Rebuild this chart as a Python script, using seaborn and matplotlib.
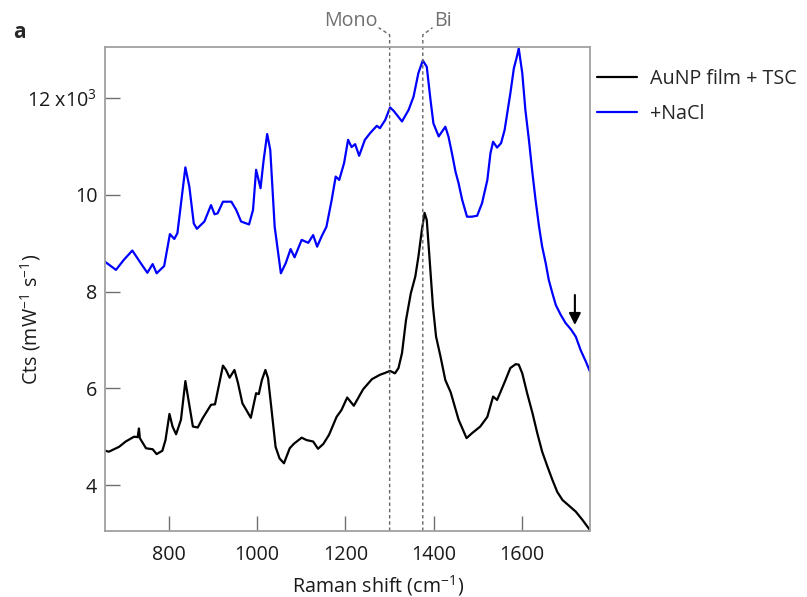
import numpy as np
import pandas as pd
import matplotlib
matplotlib.use("Agg")
import matplotlib.pyplot as plt
import matplotlib.transforms as mtransforms
import seaborn as sns

# ---- data ----
nacl_shift = [656, 681, 699, 718, 737, 752, 764, 773, 790, 803, 813, 820, 838, 847, 857, 864,
              881, 896, 904, 911, 923, 942, 953, 964, 982, 991, 998, 1008, 1015, 1023, 1030,
              1040, 1054, 1065, 1076, 1085, 1101, 1116, 1127, 1136, 1146, 1157, 1169, 1178,
              1186, 1197, 1206, 1214, 1222, 1231, 1244, 1256, 1271, 1278, 1290, 1301, 1309,
              1328, 1343, 1354, 1365, 1375, 1384, 1392, 1399, 1411, 1426, 1433, 1441, 1449,
              1456, 1464, 1475, 1486, 1498, 1509, 1521, 1528, 1534, 1543, 1552, 1560, 1566,
              1573, 1581, 1587, 1592, 1600, 1607, 1615, 1623, 1630, 1638, 1645, 1653, 1660,
              1668, 1676, 1687, 1698, 1710, 1721, 1732, 1744, 1753]
nacl_cts = [8620, 8450, 8660, 8850, 8590, 8390, 8570, 8380, 8530, 9190, 9090, 9210, 10570,
            10170, 9410, 9300, 9450, 9790, 9600, 9620, 9860, 9860, 9690, 9450, 9390, 9690,
            10520, 10140, 10720, 11260, 10930, 9340, 8380, 8590, 8880, 8710, 9070, 9010,
            9170, 8930, 9140, 9340, 9900, 10380, 10310, 10660, 11140, 10990, 11050, 10810,
            11140, 11280, 11430, 11380, 11550, 11810, 11740, 11520, 11760, 12030, 12520,
            12780, 12650, 12000, 11480, 11210, 11410, 11210, 10860, 10480, 10240, 9900,
            9550, 9550, 9570, 9830, 10310, 10860, 11100, 10980, 11070, 11340, 11690, 12100,
            12620, 12830, 13030, 12520, 11760, 11140, 10450, 9900, 9340, 8930, 8590, 8240,
            7970, 7720, 7520, 7350, 7220, 7070, 6790, 6550, 6350]

tsc_shift = [656, 665, 688, 703, 722, 730, 733, 735, 749, 764, 773, 786, 793, 802, 809, 817,
             828, 838, 845, 855, 866, 877, 896, 905, 914, 923, 930, 938, 949, 957, 967, 976,
             986, 998, 1004, 1011, 1019, 1025, 1033, 1042, 1051, 1061, 1074, 1083, 1101, 1112,
             1127, 1138, 1150, 1163, 1180, 1191, 1204, 1219, 1240, 1260, 1278, 1290, 1301,
             1312, 1320, 1328, 1337, 1348, 1358, 1365, 1373, 1379, 1384, 1390, 1398, 1405,
             1415, 1426, 1438, 1456, 1474, 1486, 1505, 1521, 1534, 1543, 1551, 1562, 1573,
             1585, 1592, 1600, 1611, 1623, 1634, 1645, 1657, 1668, 1679, 1691, 1706, 1721,
             1736, 1753]
tsc_cts = [4710, 4690, 4790, 4900, 5000, 4990, 5170, 4970, 4760, 4740, 4640, 4710, 4930,
           5470, 5210, 5050, 5350, 6150, 5760, 5210, 5190, 5380, 5660, 5670, 6070, 6470,
           6380, 6220, 6380, 6110, 5690, 5550, 5390, 5900, 5880, 6170, 6380, 6210, 5550,
           4790, 4550, 4450, 4760, 4850, 4980, 4930, 4900, 4750, 4850, 5040, 5410, 5550,
           5810, 5640, 5980, 6190, 6280, 6320, 6360, 6310, 6420, 6730, 7410, 7970, 8310,
           8720, 9280, 9630, 9480, 8720, 7690, 7070, 6660, 6170, 5920, 5350, 4970, 5070,
           5210, 5410, 5830, 5760, 5930, 6170, 6420, 6500, 6490, 6310, 5900, 5490, 5070,
           4690, 4380, 4110, 3860, 3690, 3570, 3450, 3280, 3070]

series_names = ["AuNP film + TSC", "+NaCl"]
series_colors = ["#000000", "#0000ff"]

mono_shift = 1300
bi_shift = 1375
arrow_shift = 1719
arrow_top, arrow_tip = 7930, 7310

y_ticks = [4000, 6000, 8000, 10000, 12000]
y_tick_labels = ["4", "6", "8", "10", "12 x10$^{3}$"]
x_ticks = [800, 1000, 1200, 1400, 1600]

# ---- build long-form table ----
df = pd.concat([
    pd.DataFrame({"shift": tsc_shift, "cts": tsc_cts, "sample": series_names[0]}),
    pd.DataFrame({"shift": nacl_shift, "cts": nacl_cts, "sample": series_names[1]}),
], ignore_index=True)

sns.set_style("white")
plt.rcParams["font.family"] = ["Open Sans", "DejaVu Sans"]
plt.rcParams["mathtext.fontset"] = "custom"
plt.rcParams["mathtext.rm"] = "Open Sans"
plt.rcParams["mathtext.it"] = "Open Sans"

FS = 14.2
txt_col = "#1a1a1a"

fig = plt.figure(figsize=(8.07, 5.97), dpi=100)
ax = fig.add_axes([0.130, 0.1106, 0.601, 0.8107])

sns.lineplot(data=df, x="shift", y="cts", hue="sample", hue_order=series_names,
             palette=series_colors, linewidth=1.6, ax=ax, sort=False, legend=True)

ax.set_xlim(656, 1753)
ax.set_ylim(3050, 13060)
ax.set_xticks(x_ticks)
ax.set_xticklabels([str(t) for t in x_ticks])
ax.set_yticks(y_ticks)
ax.set_yticklabels(y_tick_labels)

spine_col = "#a0a0a0"
for s in ax.spines.values():
    s.set_color(spine_col)
    s.set_linewidth(1.3)
ax.tick_params(axis="both", direction="in", length=11, width=1.0, color="#707070",
               labelsize=FS, labelcolor=txt_col, left=True, bottom=True)
ax.tick_params(axis="x", pad=10)
ax.tick_params(axis="y", pad=5.5)

ax.set_xlabel("Raman shift (cm$^{-1}$)", fontsize=FS, color=txt_col)
ax.set_ylabel("Cts (mW$^{-1}$ s$^{-1}$)", fontsize=FS, color=txt_col)
ax.xaxis.label.set_va("center")
ax.yaxis.label.set_va("center")
ax.xaxis.set_label_coords(0.564, -0.112)
ax.yaxis.set_label_coords(-0.154, 0.438)

# dashed markers with leader lines above the axes
trans = mtransforms.blended_transform_factory(ax.transData, ax.transAxes)
dash_col = "#666666"
ax.plot([mono_shift, mono_shift, mono_shift - 25], [0, 1.025, 1.040], transform=trans,
        color=dash_col, lw=1.0, ls=(0, (2.5, 2)), clip_on=False)
ax.plot([bi_shift, bi_shift, bi_shift + 22], [0, 1.025, 1.040], transform=trans,
        color=dash_col, lw=1.0, ls=(0, (2.5, 2)), clip_on=False)
ax.text(mono_shift - 27, 1.053, "Mono", transform=trans, ha="right", va="center",
        fontsize=FS, color="#707070")
ax.text(bi_shift + 26, 1.053, "Bi", transform=trans, ha="left", va="center",
        fontsize=FS, color="#707070")

# arrow
ax.annotate("", xy=(arrow_shift, arrow_tip), xytext=(arrow_shift, arrow_top),
            arrowprops=dict(arrowstyle="-|>,head_width=0.35,head_length=0.7",
                            color="black", lw=1.5, shrinkA=0, shrinkB=0))

# legend
handles, labels = ax.get_legend_handles_labels()
ax.legend(handles, labels, loc="upper left", bbox_to_anchor=(0.999, 0.970),
          frameon=False, fontsize=FS, handlelength=2.03, handletextpad=0.66,
          labelspacing=0.73, borderaxespad=0)

fig.text(0.016, 0.945, "a", fontsize=15, fontweight="bold", ha="left", va="center")

fig.savefig("out.png", dpi=100)
